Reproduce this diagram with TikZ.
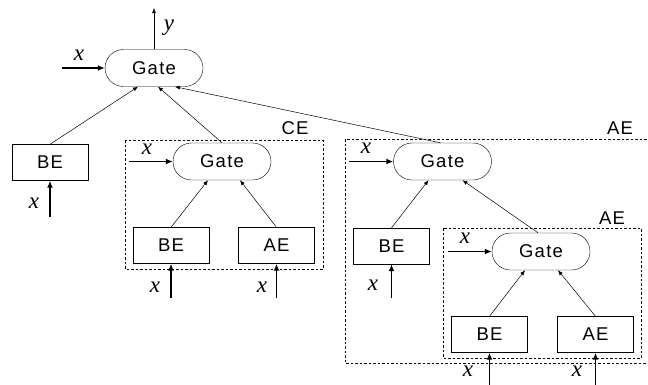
\documentclass[tikz,border=0pt]{standalone}
\usepackage{fontspec}
\setmainfont{Liberation Serif}
\newfontfamily\boxfont[LetterSpace=7]{Liberation Sans}
\usetikzlibrary{shapes.misc,arrows.meta,calc}
\begin{document}
\begin{tikzpicture}[x=1pt,y=-1pt,
      gate/.style={draw, rounded rectangle, minimum width=98pt, minimum height=37pt, inner sep=0pt, font=\boxfont\fontsize{18.5}{20}\selectfont},
      elem/.style={draw, rectangle, minimum width=76pt, minimum height=36pt, inner sep=0pt, font=\boxfont\fontsize{18.5}{20}\selectfont},
      group/.style={draw, dash pattern=on 2.5pt off 2pt, line width=0.6pt},
      tag/.style={font=\boxfont\fontsize{18.5}{20}\selectfont, inner sep=0pt},
      var/.style={font=\itshape\fontsize{23}{25}\selectfont, inner sep=0pt},
      link/.style={-{Latex[length=5pt,width=4pt]}, line width=0.5pt},
      input/.style={-{Latex[length=7pt,width=6pt]}, line width=1.7pt},]
      \clip (0,0) rectangle (648,384);
      \draw[group] (125,140) rectangle (323,269);
      \draw[group] (345,139) rectangle (652,363);
      \draw[group] (443,228) rectangle (641,358);
      \node[tag] (ce) at (295,128) {CE};
      \node[tag] (aeo) at (620,128) {AE};
      \node[tag] (aei) at (612,218) {AE};
      \node[gate] (g0) at (154,68) {Gate};
      \node[elem] (be0) at (50,162.5) {BE};
      \node[gate] (g1) at (222,161.5) {Gate};
      \node[elem] (be1) at (171,245.5) {BE};
      \node[elem] (ae1) at (276.5,245.5) {AE};
      \node[gate] (g2) at (442.5,161.5) {Gate};
      \node[elem] (be2) at (391.5,246) {BE};
      \node[gate] (g3) at (541,251.5) {Gate};
      \node[elem] (be3) at (489.5,334.5) {BE};
      \node[elem] (ae3) at (595.5,334.5) {AE};
      \coordinate (out) at (154,8);
      \coordinate (in0) at (62,68);
      \coordinate (in1) at (129,161.5);
      \coordinate (in2) at (349,161.5);
      \coordinate (in3) at (448,251.5);
      \coordinate (up0) at (50,217);
      \coordinate (up1) at (171,298);
      \coordinate (up2) at (276.5,298);
      \coordinate (up3) at (391.5,298);
      \coordinate (up4) at (489.5,386);
      \coordinate (up5) at (595.5,386);
      \node[var] (ly) at (169,28) {y};
      \node[var] (lx0) at (79,55) {x};
      \node[var] (lx1) at (147,149) {x};
      \node[var] (lx2) at (366,148) {x};
      \node[var] (lx3) at (465,238) {x};
      \node[var] (lx4) at (34,203) {x};
      \node[var] (lx5) at (155,287) {x};
      \node[var] (lx6) at (262,287) {x};
      \node[var] (lx7) at (373,285) {x};
      \node[var] (lx8) at (468,371) {x};
      \node[var] (lx9) at (577,371) {x};
      \draw[link] (g0) -- (out);
      \draw[input] (in0) -- (g0);
      \draw[input] (in1) -- (g1);
      \draw[input] (in2) -- (g2);
      \draw[input] (in3) -- (g3);
      \draw[input] (up0) -- (be0);
      \draw[input] (up1) -- (be1);
      \draw[input] (up2) -- (ae1);
      \draw[input] (up3) -- (be2);
      \draw[input] (up4) -- (be3);
      \draw[input] (up5) -- (ae3);
      \draw[link] (be0.north) -- ($(g0.south)+(-16,0)$);
      \draw[link] (g1.north) -- ($(g0.south)+(4,0)$);
      \draw[link] ($(g2.north)+(-2,0)$) -- ($(g0.south)+(21,0)$);
      \draw[link] (be1.north) -- ($(g1.south)+(-14,0)$);
      \draw[link] (ae1.north) -- ($(g1.south)+(18,0)$);
      \draw[link] (be2.north) -- ($(g2.south)+(-14,0)$);
      \draw[link] ($(g3.north)+(-3,0)$) -- ($(g2.south)+(20,0)$);
      \draw[link] (be3.north) -- ($(g3.south)+(-16,0)$);
      \draw[link] (ae3.north) -- ($(g3.south)+(17,0)$);
    \end{tikzpicture}
\end{document}
